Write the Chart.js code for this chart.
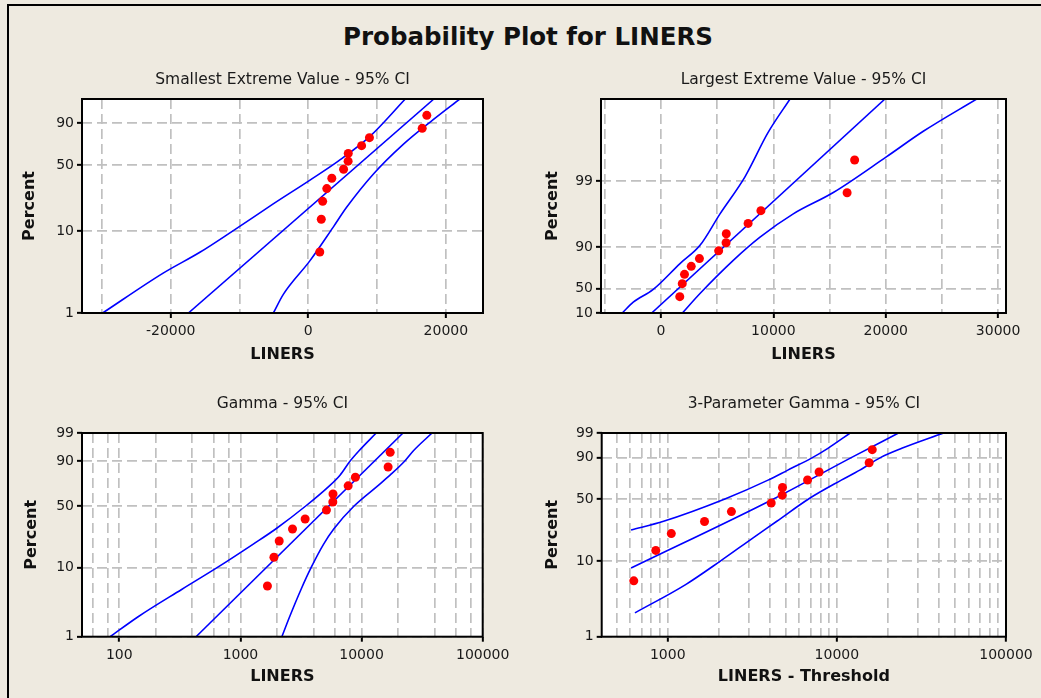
<!DOCTYPE html>
<html><head><meta charset="utf-8">
<script src="https://cdn.jsdelivr.net/npm/chart.js@4.4.1/dist/chart.umd.min.js"></script>
<style>
html,body{margin:0;padding:0;background:#EEEAE0;}
#wrap{position:relative;width:1041px;height:698px;overflow:hidden;background:#EEEAE0;}
#frame{position:absolute;left:7px;top:4px;width:1100px;height:800px;border-left:2px solid #000;border-top:2px solid #000;}
#title{position:absolute;left:0;width:1056px;top:25px;text-align:center;font-family:'DejaVu Sans',sans-serif;font-weight:bold;font-size:24.5px;line-height:1;color:#111;white-space:nowrap;}
canvas{position:absolute;}
</style></head><body>
<div id="wrap">
<div id="frame"></div>
<div id="title">Probability Plot for LINERS</div>
<canvas id="c1" width="512" height="329" style="left:8px;top:56px;width:512px;height:329px"></canvas>
<canvas id="c2" width="521" height="329" style="left:520px;top:56px;width:521px;height:329px"></canvas>
<canvas id="c3" width="512" height="313" style="left:8px;top:385px;width:512px;height:313px"></canvas>
<canvas id="c4" width="521" height="313" style="left:520px;top:385px;width:521px;height:313px"></canvas>
</div>
<script>
// ---------- data ----------
const liners   = [1670, 1890, 2090, 2690, 3420, 5130, 5790, 5810, 7750, 8890, 16560, 17230];
const percents = [5.6, 13.7, 21.8, 29.8, 37.9, 46.0, 54.0, 62.1, 70.2, 78.2, 86.3, 94.4];
const threshold = 1040;

// Smallest extreme value panel curves
const sevLowerPct = [1, 3.1, 5.6, 10.1, 20.4, 36.3, 54.2, 79.6, 99];
const sevLowerX   = [-29900, -21100, -15700, -10900, -5100, 250, 4400, 9000, 14100];
const sevFitPct   = [1, 99];
const sevFitX     = [-17430, 18260];
const sevUpperPct = [1, 1.7, 4.4, 11.1, 18.7, 41.4, 71.5, 92.2, 99];
const sevUpperX   = [-5080, -3630, 250, 3630, 5570, 9440, 13800, 18160, 22030];

// Largest extreme value panel curves
const levLowerPct = [1, 3.4, 9.6, 32.7, 51.5, 76.4, 91.1, 97.4, 99];
const levLowerX   = [-3450, -2470, -690, 1690, 3470, 5250, 7470, 9520, 11480];
const levFitPct   = [1, 99];
const levFitX     = [-830, 19930];
const levUpperPct = [1, 7.2, 36.1, 59.2, 76.4, 86.4, 94.9, 97.5, 99];
const levUpperX   = [1900, 3470, 6430, 8810, 11770, 15330, 20080, 23340, 28090];

// Gamma panel curves
const gamLowerPct = [1, 2, 5, 10, 20, 30, 50, 70, 80, 90, 95, 99];
const gamLowerX   = [84, 143, 327, 641, 1276, 1968, 3459, 5398, 6637, 8017, 9530, 13210];
const gamFitPct   = [1, 99];
const gamFitX     = [430, 21980];
const gamUpperPct = [1, 2, 5, 10, 20, 30, 50, 70, 80, 90, 95, 99];
const gamUpperX   = [2198, 2547, 3162, 3829, 4862, 5912, 8670, 13520, 17180, 22640, 26800, 38190];

// 3-parameter gamma panel curves (x = LINERS - Threshold)
const g3UpperCIPct = [24, 30, 50, 70, 80, 90, 95, 99];
const g3UpperCIX   = [607, 945, 2178, 3917, 5127, 7165, 8851, 11990];
const g3FitPct     = [8.2, 50, 90, 99];
const g3FitX       = [607, 4220, 12160, 23150];
const g3LowerCIPct = [2.1, 5, 10, 20, 30, 50, 70, 80, 90, 95, 99];
const g3LowerCIX   = [640, 1276, 2037, 3260, 4416, 6801, 10620, 13660, 18090, 24190, 42760];

// axis ticks
const sevXGrid = [-30000, -20000, -10000, 0, 10000, 20000];
const sevXLabeled = [-20000, 0, 20000];
const levXGrid = [-5000, 0, 5000, 10000, 15000, 20000, 25000, 30000];
const levXLabeled = [0, 10000, 20000, 30000];
const gamXGrid = [60, 80, 100, 200, 400, 600, 800, 1000, 2000, 4000, 6000, 8000, 10000, 20000, 40000, 60000, 80000, 100000];
const gamXLabeled = [100, 1000, 10000, 100000];
const g3XGrid = [500, 600, 700, 800, 900, 1000, 2000, 3000, 4000, 5000, 6000, 7000, 8000, 9000, 10000, 20000, 30000, 40000, 50000, 60000, 70000, 80000, 90000, 100000];
const g3XLabeled = [1000, 10000, 100000];

const sevYTickPct = [1, 10, 50, 90];
const sevYTickLabels = ['1', '10', '50', '90'];
const levYTickPct = [1, 10, 50, 90];
const levYTickLabels = ['10', '50', '90', '99'];
const gamYTickPct = [1, 10, 50, 90, 99];
const gamYTickLabels = ['1', '10', '50', '90', '99'];

const gammaShape = 1.9;
const gamma3Shape = 1.2;

// ---------- probability transforms ----------
function lnGamma(z){
  const g=7, c=[0.99999999999980993,676.5203681218851,-1259.1392167224028,771.32342877765313,-176.61502916214059,12.507343278686905,-0.13857109526572012,9.9843695780195716e-6,1.5056327351493116e-7];
  if(z<0.5) return Math.log(Math.PI/Math.sin(Math.PI*z)) - lnGamma(1-z);
  z-=1; let x=c[0]; for(let i=1;i<g+2;i++) x+=c[i]/(z+i);
  const t=z+g+0.5; return 0.5*Math.log(2*Math.PI)+(z+0.5)*Math.log(t)-t+Math.log(x);
}
function gammaP(a,x){
  if(x<=0) return 0;
  const lg = -x + a*Math.log(x) - lnGamma(a);
  if(x<a+1){
    let ap=a, sum=1/a, del=sum;
    for(let n=0;n<1000;n++){ ap+=1; del*=x/ap; sum+=del; if(Math.abs(del)<Math.abs(sum)*1e-15) break; }
    return sum*Math.exp(lg);
  }
  let b=x+1-a, c=1e300, d=1/b, h=d;
  for(let i=1;i<1000;i++){
    const an=-i*(i-a); b+=2; d=an*d+b; if(Math.abs(d)<1e-300) d=1e-300;
    c=b+an/c; if(Math.abs(c)<1e-300) c=1e-300; d=1/d; const del=d*c; h*=del;
    if(Math.abs(del-1)<1e-15) break;
  }
  return 1-Math.exp(lg)*h;
}
function gammaInv(p,a){
  let lo=-40, hi=10;
  for(let i=0;i<120;i++){ const m=(lo+hi)/2; if(gammaP(a,Math.exp(m))<p) lo=m; else hi=m; }
  return Math.exp((lo+hi)/2);
}
const sevT = p => Math.log(-Math.log(1 - p/100));
const levT = p => -Math.log(-Math.log(p/100));
const gamT = k => p => Math.log10(gammaInv(p/100, k));

// ---------- chart helpers ----------
Chart.defaults.font.family = "'DejaVu Sans', sans-serif";
Chart.defaults.color = '#1a1a1a';

const panelPlugin = {
  id: 'panelFrame',
  beforeDraw(chart){
    const {ctx, chartArea:a} = chart;
    ctx.save(); ctx.fillStyle = '#FFFFFF';
    ctx.fillRect(a.left, a.top, a.right-a.left, a.bottom-a.top); ctx.restore();
  },
  afterDatasetsDraw(chart){
    const {ctx, chartArea:a} = chart;
    ctx.save(); ctx.strokeStyle = '#000'; ctx.lineWidth = 2;
    ctx.strokeRect(a.left, a.top, a.right-a.left, a.bottom-a.top); ctx.restore();
  }
};

function curve(pcts, xs, T){ return pcts.map((p,i)=>({x: xs[i], y: T(p)})); }

function makePanel(o){
  const T = o.T;
  const labeled = new Set(o.xLabeled);
  const ds = [{
    data: o.pointsX.map((x,i)=>({x, y: T(percents[i])})),
    pointRadius: 4.5, pointBackgroundColor: '#FF0000', pointBorderWidth: 0, showLine: false
  }];
  o.curves.forEach(c => ds.push({
    data: curve(c[0], c[1], T), showLine: true, pointRadius: 0, borderColor: '#0000FF',
    borderWidth: 1.6, fill: false, cubicInterpolationMode: 'monotone', clip: 0
  }));
  return new Chart(document.getElementById(o.id), {
    type: 'scatter',
    data: { datasets: ds },
    plugins: [panelPlugin],
    options: {
      responsive: false, animation: false, devicePixelRatio: 1,
      events: [],
      layout: { padding: { left: 0, top: 0, right: o.padRight, bottom: 0 } },
      plugins: {
        legend: { display: false }, tooltip: { enabled: false },
        title: { display: true, text: o.title, fullSize: false, color: '#1a1a1a',
          font: { size: 15.5, weight: 'normal' }, padding: { top: o.titleTop, bottom: o.titleBottom } }
      },
      scales: {
        x: {
          type: o.xType, min: o.xMin, max: o.xMax, bounds: 'data', position: 'bottom',
          afterBuildTicks: s => { s.ticks = o.xGrid.map(v => ({ value: v })); },
          afterFit: s => { s.height = o.xHeight; },
          ticks: { autoSkip: false, maxRotation: 0, minRotation: 0, padding: 5, color: '#1a1a1a',
            font: { size: 14 }, callback: v => labeled.has(v) ? String(v) : '' },
          grid: { color: '#C0C0C0', lineWidth: 1.7, drawTicks: true, tickLength: 5, tickWidth: 2,
            tickBorderDash: [], tickColor: c => (c.tick && labeled.has(c.tick.value)) ? '#000' : 'rgba(0,0,0,0)' },
          border: { display: false, dash: [10, 5] },
          title: { display: true, text: o.xTitle, color: '#111', font: { size: 16, weight: 'bold' },
            padding: { top: 0, bottom: o.xTitlePad } }
        },
        y: {
          type: 'linear', min: T(1), max: T(99), bounds: 'data', position: 'left',
          afterBuildTicks: s => { s.ticks = o.yTickPct.map(p => ({ value: T(p) })); },
          afterFit: s => { s.width = o.yWidth; },
          ticks: { autoSkip: false, padding: 3, color: '#1a1a1a', font: { size: 14 },
            callback: (v, i) => o.yTickLabels[i] },
          grid: { color: '#C0C0C0', lineWidth: 1.7, drawTicks: true, tickLength: 5, tickWidth: 2,
            tickBorderDash: [], tickColor: '#000' },
          border: { display: false, dash: [10, 5] },
          title: { display: true, text: 'Percent', color: '#111', font: { size: 16, weight: 'bold' },
            padding: { top: o.yTitlePad, bottom: 0 } }
        }
      }
    }
  });
}

makePanel({
  id: 'c1', title: 'Smallest Extreme Value - 95% CI', T: sevT,
  xType: 'linear', xMin: -32900, xMax: 25400, xGrid: sevXGrid, xLabeled: sevXLabeled,
  yTickPct: sevYTickPct, yTickLabels: sevYTickLabels,
  pointsX: liners,
  curves: [[sevLowerPct, sevLowerX], [sevFitPct, sevFitX], [sevUpperPct, sevUpperX]],
  xTitle: 'LINERS', padRight: 37, titleTop: 14.7, titleBottom: 9.7, xHeight: 72, yWidth: 74,
  xTitlePad: 20.7, yTitlePad: 12.4
});
makePanel({
  id: 'c2', title: 'Largest Extreme Value - 95% CI', T: levT,
  xType: 'linear', xMin: -5340, xMax: 30700, xGrid: levXGrid, xLabeled: levXLabeled,
  yTickPct: levYTickPct, yTickLabels: levYTickLabels,
  pointsX: liners,
  curves: [[levLowerPct, levLowerX], [levFitPct, levFitX], [levUpperPct, levUpperX]],
  xTitle: 'LINERS', padRight: 35, titleTop: 14.7, titleBottom: 9.7, xHeight: 72, yWidth: 81,
  xTitlePad: 20.7, yTitlePad: 23.7
});
makePanel({
  id: 'c3', title: 'Gamma - 95% CI', T: gamT(gammaShape),
  xType: 'logarithmic', xMin: 49.2, xMax: 100000, xGrid: gamXGrid, xLabeled: gamXLabeled,
  yTickPct: gamYTickPct, yTickLabels: gamYTickLabels,
  pointsX: liners,
  curves: [[gamLowerPct, gamLowerX], [gamFitPct, gamFitX], [gamUpperPct, gamUpperX]],
  xTitle: 'LINERS', padRight: 37.3, titleTop: 9.7, titleBottom: 19.7, xHeight: 61.3, yWidth: 74,
  xTitlePad: 11.1, yTitlePad: 14.1
});
makePanel({
  id: 'c4', title: '3-Parameter Gamma - 95% CI', T: gamT(gamma3Shape),
  xType: 'logarithmic', xMin: 407, xMax: 100000, xGrid: g3XGrid, xLabeled: g3XLabeled,
  yTickPct: gamYTickPct, yTickLabels: gamYTickLabels,
  pointsX: liners.map(v => v - threshold),
  curves: [[g3UpperCIPct, g3UpperCIX], [g3FitPct, g3FitX], [g3LowerCIPct, g3LowerCIX]],
  xTitle: 'LINERS - Threshold', padRight: 35, titleTop: 9.7, titleBottom: 19.7, xHeight: 61.3, yWidth: 81.7,
  xTitlePad: 11.1, yTitlePad: 23.7
});
</script>
</body></html>
